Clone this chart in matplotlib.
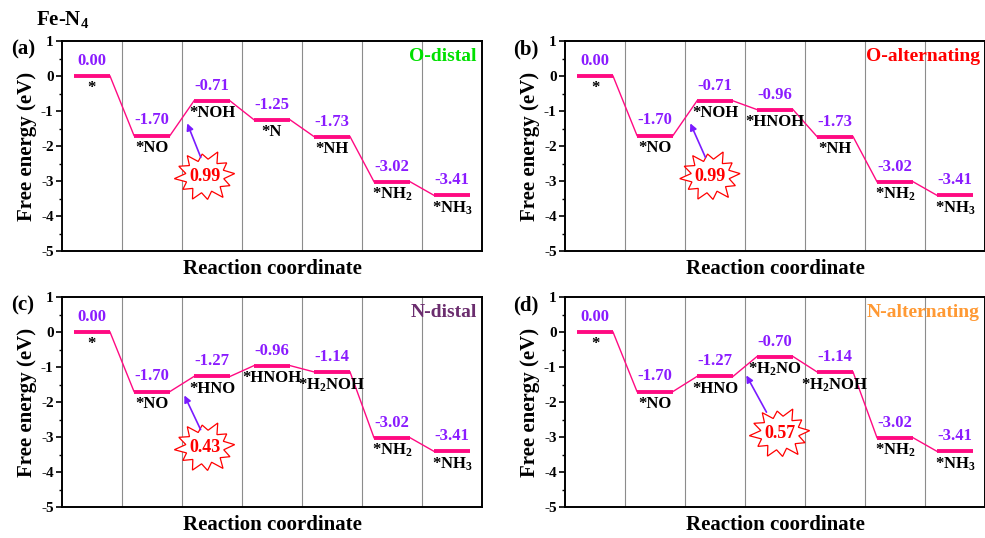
import numpy as np
import matplotlib.pyplot as plt

plt.rcParams['font.family'] = 'Liberation Serif'
plt.rcParams['font.weight'] = 'bold'
plt.rcParams['axes.unicode_minus'] = False
plt.rcParams['mathtext.fontset'] = 'custom'
plt.rcParams['mathtext.rm'] = 'Liberation Serif:bold'
plt.rcParams['mathtext.bf'] = 'Liberation Serif:bold'
plt.rcParams['mathtext.default'] = 'bf'

# Data
energies_a = [0.00, -1.70, -0.71, -1.25, -1.73, -3.02, -3.41]
species_a = ['*', '*NO', '*NOH', '*N', '*NH', '*NH$_2$', '*NH$_3$']
energies_b = [0.00, -1.70, -0.71, -0.96, -1.73, -3.02, -3.41]
species_b = ['*', '*NO', '*NOH', '*HNOH', '*NH', '*NH$_2$', '*NH$_3$']
energies_c = [0.00, -1.70, -1.27, -0.96, -1.14, -3.02, -3.41]
species_c = ['*', '*NO', '*HNO', '*HNOH', '*H$_2$NOH', '*NH$_2$', '*NH$_3$']
energies_d = [0.00, -1.70, -1.27, -0.70, -1.14, -3.02, -3.41]
species_d = ['*', '*NO', '*HNO', '*H$_2$NO', '*H$_2$NOH', '*NH$_2$', '*NH$_3$']

panel_labels = ['(a)', '(b)', '(c)', '(d)']
pathways = ['O-distal', 'O-alternating', 'N-distal', 'N-alternating']
pathway_colors = ['#00E000', '#FF0000', '#6B2D6E', '#FF9933']
barriers = ['0.99', '0.99', '0.43', '0.57']

# starburst centre, arrow tail, arrow head (data coords)
burst_pos = [(2.38, -2.86), (2.42, -2.86), (2.38, -3.29), (3.58, -2.89)]
arrow_tail = [(2.33, -2.4), (2.36, -2.4), (2.33, -2.86), (3.38, -2.36)]
arrow_head = [(2.07, -1.28), (2.07, -1.28), (2.02, -1.74), (3.0, -1.17)]

all_energies = [energies_a, energies_b, energies_c, energies_d]
all_species = [species_a, species_b, species_c, species_d]

LEVEL_COLOR = '#FF0A82'
VALUE_COLOR = '#8A1BFF'
ARROW_COLOR = '#7A1BFF'

fig = plt.figure(figsize=(9.85, 5.38), dpi=100)
W, H = 985.0, 538.0
boxes = [(62, 41), (565, 41), (62, 297), (565, 297)]  # left, top in pixels
aw, ah = 420, 210

# irregular starburst radii (outer/inner alternating)
spike_r = [1.0, 0.66, 0.9, 0.64, 1.05, 0.68, 0.88, 0.62, 1.0, 0.66, 0.95, 0.64,
           1.02, 0.65, 0.9, 0.63, 1.0, 0.67, 0.93, 0.64, 1.04, 0.66, 0.92, 0.64]

for k in range(4):
    left, top = boxes[k]
    ax = fig.add_axes([left / W, 1 - (top + ah) / H, aw / W, ah / H])
    e = all_energies[k]
    sp = all_species[k]
    n = len(e)

    ax.set_xlim(0, n)
    ax.set_ylim(-5, 1)
    for i in range(1, n):
        ax.axvline(i, color='#8c8c8c', lw=0.8, zorder=0)

    for i in range(n):
        ax.plot([i + 0.2, i + 0.8], [e[i], e[i]], color=LEVEL_COLOR, lw=2.8,
                solid_capstyle='butt', zorder=3)
        ax.text(i + 0.5, e[i] + 0.2, f'{e[i]:.2f}', color=VALUE_COLOR,
                ha='center', va='bottom', fontsize=12, fontweight='bold')
        ax.text(i + 0.5, e[i] - 0.12, sp[i], color='black', ha='center',
                va='top', fontsize=12, fontweight='bold')
        if i < n - 1:
            ax.plot([i + 0.8, i + 1.2], [e[i], e[i + 1]], color=LEVEL_COLOR,
                    lw=1.0, zorder=2)

    # starburst with barrier value
    cx, cy = burst_pos[k]
    ang = np.linspace(0, 2 * np.pi, len(spike_r), endpoint=False) + 0.1
    r = np.array(spike_r)
    px = cx + 0.5 * r * np.cos(ang)
    py = cy + 0.72 * r * np.sin(ang)
    ax.fill(px, py, facecolor='white', edgecolor='red', lw=0.9, zorder=4)
    ax.text(cx, cy, barriers[k], color='red', ha='center', va='center',
            fontsize=13, fontweight='bold', zorder=5)
    ax.annotate('', xy=arrow_head[k], xytext=arrow_tail[k],
                arrowprops=dict(arrowstyle='-|>', color=ARROW_COLOR, lw=1.2,
                                mutation_scale=10), zorder=5)

    ax.text(0.988, 0.925, pathways[k], transform=ax.transAxes, ha='right',
            va='center', color=pathway_colors[k], fontsize=14,
            fontweight='bold')

    ax.set_yticks(range(-5, 2))
    ax.set_yticks(np.arange(-4.5, 1, 1.0), minor=True)
    ax.set_xticks([])
    ax.tick_params(axis='y', which='major', length=4, width=1.2,
                   labelsize=11, pad=2)
    ax.tick_params(axis='y', which='minor', length=2.5, width=1.0)
    for lab in ax.get_yticklabels():
        lab.set_fontweight('bold')
    for s in ax.spines.values():
        s.set_linewidth(1.4)
    ax.set_ylabel('Free energy (eV)', fontsize=15, fontweight='bold',
                  labelpad=3)
    ax.set_xlabel('Reaction coordinate', fontsize=15, fontweight='bold',
                  labelpad=6)

    fig.text((left - 39) / W, 1 - (top + 8) / H, panel_labels[k],
             ha='center', va='center', fontsize=15, fontweight='bold')

fig.text(63 / W, 1 - 19 / H, 'Fe-N$_4$', ha='center', va='center',
         fontsize=15, fontweight='bold')

fig.savefig('out.png', dpi=100)
